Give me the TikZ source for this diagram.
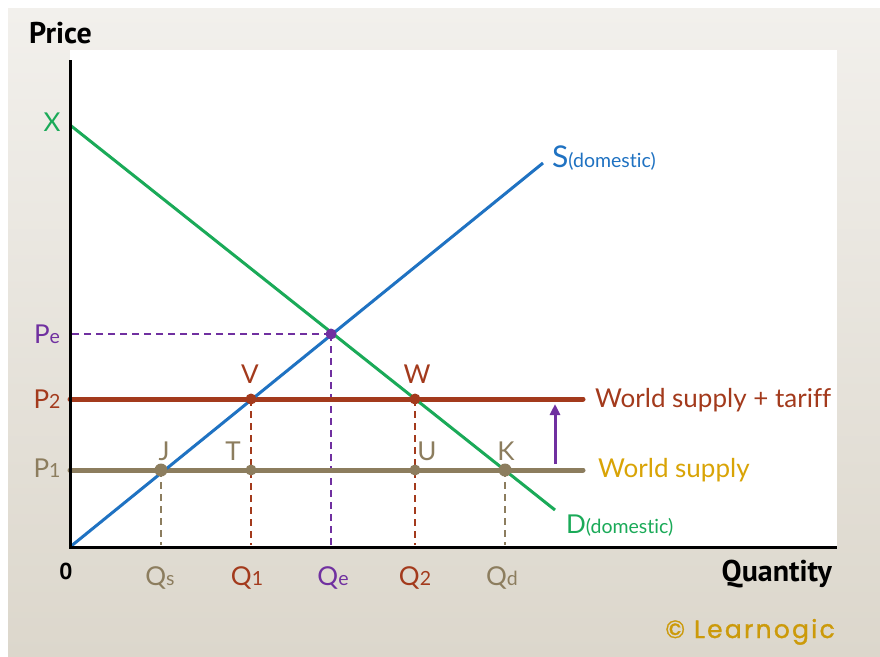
\documentclass[tikz,border=0pt]{standalone}
\usepackage{fontspec}
\setmainfont{Lato}[Ligatures={NoCommon}]
\newfontfamily\headfont{PT Sans}
\newfontfamily\logofont[LetterSpace=9,FakeBold=1.3]{Poppins}
\usetikzlibrary{arrows.meta}
\definecolor{cgreen}{HTML}{1AAA58}
\definecolor{cblue}{HTML}{1F72C2}
\definecolor{cbrown}{HTML}{A33A1C}
\definecolor{ctan}{HTML}{8C7D5E}
\definecolor{cpurple}{HTML}{7030A0}
\definecolor{cgold}{HTML}{D9A406}
\definecolor{clogo}{HTML}{CC9A0A}
\definecolor{bgtop}{HTML}{F2F0EC}
\definecolor{bgbot}{HTML}{DCD7CC}
\newcommand\subtxt[1]{{\fontsize{19.5}{19.5}\selectfont #1}}
\begin{document}
\begin{tikzpicture}[x=1pt,y=-1pt,
  lbl/.style={inner sep=0pt,anchor=base,font=\fontsize{26}{26}\selectfont},
  axisline/.style={line width=3pt,black},
  curve/.style={line width=3pt},
  level/.style={line width=5pt,line cap=round},
  guide/.style={line width=1.9pt,dash pattern=on 7pt off 5pt},
  dot/.style={circle,inner sep=0pt,minimum size=#1}]
\useasboundingbox (0,0) rectangle (880,656);
\fill[white] (0,0) rectangle (880,656);
\shade[top color=bgtop,bottom color=bgbot] (8,8) rectangle (880,656);
\fill[white] (70,50) rectangle (837,547);

% key points
\coordinate (ytop) at (70,60);
\coordinate (O) at (70,547);
\coordinate (xend) at (837,547);
\coordinate (X) at (70,125);
\coordinate (Dend) at (555,510);
\coordinate (Send) at (543,163);
\coordinate (E) at (331,334);
\coordinate (V) at (251,399);
\coordinate (W) at (415,399);
\coordinate (J) at (161,470);
\coordinate (T) at (251,470);
\coordinate (U) at (415,470);
\coordinate (K) at (505,470);
\coordinate (PeL) at (70,334);
\coordinate (PtwoL) at (70,399);
\coordinate (PtwoR) at (583,399);
\coordinate (PoneL) at (70,470);
\coordinate (PoneR) at (583,470);
\coordinate (Qsb) at (161,545);
\coordinate (Qoneb) at (251,545);
\coordinate (Qeb) at (331,545);
\coordinate (Qtwob) at (415,545);
\coordinate (Qdb) at (505,545);
\coordinate (Abot) at (555,464);
\coordinate (Atop) at (555,404);

% guides
\draw[guide,cpurple] (E) -- (PeL);
\draw[guide,cpurple] (E) -- (Qeb);
\draw[guide,cbrown] (V) -- (Qoneb);
\draw[guide,cbrown] (W) -- (Qtwob);
\draw[guide,ctan] (J) -- (Qsb);
\draw[guide,ctan] (K) -- (Qdb);

% price levels
\draw[level,cbrown] (PtwoL) -- (PtwoR);
\draw[level,ctan] (PoneL) -- (PoneR);
\draw[line width=3pt,cpurple,-{Triangle[length=11pt,width=10pt]}] (Abot) -- (Atop);

% curves
\draw[curve,cgreen] (X) -- (Dend);
\draw[curve,cblue] (O) -- (Send);

% axes
\draw[axisline] (ytop) -- (O) -- (xend);

% dots
\node[dot=11pt,fill=cpurple] (Edot) at (E) {};
\node[dot=11pt,fill=cbrown] (Vdot) at (V) {};
\node[dot=11pt,fill=cbrown] (Wdot) at (W) {};
\node[dot=13pt,fill=ctan] (Jdot) at (J) {};
\node[dot=11pt,fill=ctan] (Tdot) at (T) {};
\node[dot=11pt,fill=ctan] (Udot) at (U) {};
\node[dot=13pt,fill=ctan] (Kdot) at (K) {};

% axis titles
\node[inner sep=0pt,anchor=base west,font=\headfont\bfseries\fontsize{30}{30}\selectfont] (price) at (29,43) {Price};
\node[inner sep=0pt,anchor=base east,font=\headfont\bfseries\fontsize{30}{30}\selectfont] (qty) at (832,581) {Quantity};
\node[inner sep=0pt,anchor=base,font=\headfont\bfseries\fontsize{23}{23}\selectfont] (zero) at (66,579) {0};

% price labels
\node[lbl,text=cgreen] (Xl) at (52,131) {X};
\node[lbl,text=cpurple] (Pel) at (47,343) {P\subtxt{e}};
\node[lbl,text=cbrown] (Ptwol) at (47,408) {P\subtxt{2}};
\node[lbl,text=ctan] (Ponel) at (47,477) {P\subtxt{1}};

% quantity labels
\node[lbl,text=ctan] (Qsl) at (160,585) {Q\subtxt{s}};
\node[lbl,text=cbrown] (Qonel) at (247,585) {Q\subtxt{1}};
\node[lbl,text=cpurple] (Qel) at (333,585) {Q\subtxt{e}};
\node[lbl,text=cbrown] (Qtwol) at (415,585) {Q\subtxt{2}};
\node[lbl,text=ctan] (Qdl) at (502,585) {Q\subtxt{d}};

% point labels
\node[lbl,text=cbrown] (Vl) at (250,383) {V};
\node[lbl,text=cbrown] (Wl) at (417,383) {W};
\node[lbl,text=ctan] (Jl) at (164,460) {J};
\node[lbl,text=ctan] (Tl) at (233,460) {T};
\node[lbl,text=ctan] (Ul) at (427,460) {U};
\node[lbl,text=ctan] (Kl) at (506,460) {K};

% curve labels
\node[lbl,anchor=base west,text=cblue] (Sl) at (552,167) {{\fontsize{30}{30}\selectfont S}\subtxt{(domestic)}};
\node[lbl,anchor=base west,text=cgreen] (Dl) at (566,533) {D\subtxt{(domestic)}};
\node[lbl,anchor=base west,text=cbrown] (wst) at (595,407) {World supply + tariff};
\node[lbl,anchor=base west,text=cgold] (ws) at (598,477) {World supply};

% logo
\node[inner sep=0pt,anchor=base east,text=clogo,font=\logofont\fontsize{25}{25}\selectfont] (logo) at (835,638) {© Learnogic};
\end{tikzpicture}
\end{document}
